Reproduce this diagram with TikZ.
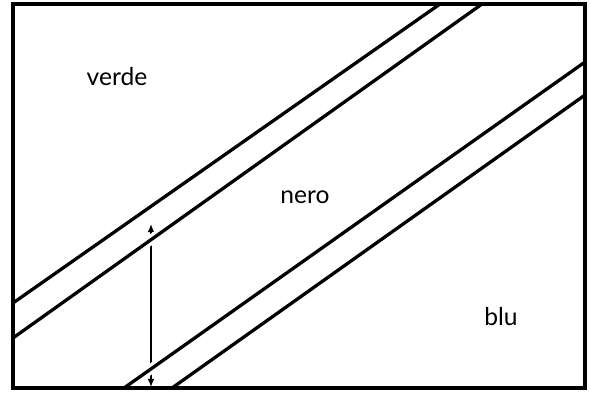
\documentclass[tikz,border=0pt]{standalone}
\usepackage{fontspec}
\setmainfont{Lato}
\usetikzlibrary{arrows.meta}
\begin{document}
\begin{tikzpicture}[
    x=0.03cm,
    y=-0.03cm,
    >={Latex[length=7pt,width=6pt]},
    regionname/.style={
        font=\fontsize{21}{25}\selectfont,
        anchor=base
    },
    frame/.style={
        line width=3pt
    },
    stripe/.style={
        line width=2.8pt,
        preaction={draw=white, line width=8.5pt}
    },
    measure/.style={
        <->,
        line width=1.3pt
    }]

\useasboundingbox (0,0) rectangle (591,392);

% Misura
\coordinate (top) at (151,224);
\coordinate (bottom) at (151,387);
\draw[measure] (top) -- (bottom);

% Prima striscia
\draw[stripe] (13,303) -- (440,4);
\draw[stripe] (13,338) -- (482,4);

% Seconda striscia
\draw[stripe] (124,388) -- (585,62);
\draw[stripe] (172,388) -- (585,95);

% Cornice
\draw[frame] (13,4) rectangle (585,388);

% Etichette
\node[regionname] (verde) at (117,85) {verde};
\node[regionname] (nero) at (305,203) {nero};
\node[regionname] (blu) at (501,325) {blu};

\end{tikzpicture}
\end{document}
